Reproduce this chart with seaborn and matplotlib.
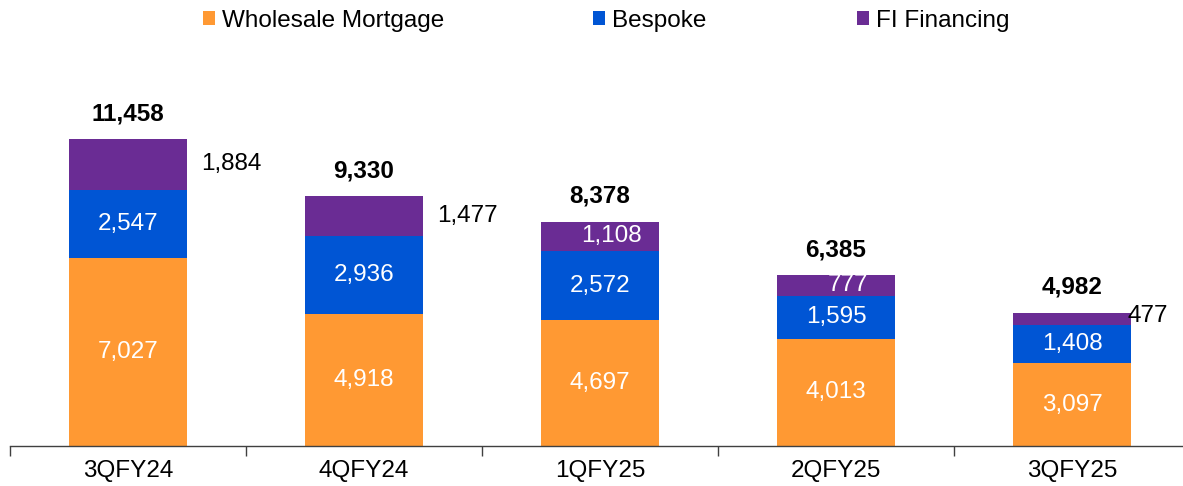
import numpy as np
import pandas as pd
import matplotlib
matplotlib.use('Agg')
import matplotlib.pyplot as plt
from matplotlib.patches import Patch
import seaborn as sns

sns.set_style('white')
plt.rcParams['font.family'] = ['Liberation Sans', 'DejaVu Sans']
plt.rcParams['text.color'] = 'black'
plt.rcParams['xtick.color'] = 'black'

# Data
quarters = ['3QFY24', '4QFY24', '1QFY25', '2QFY25', '3QFY25']
wholesale = [7027, 4918, 4697, 4013, 3097]
bespoke = [2547, 2936, 2572, 1595, 1408]
fi_financing = [1884, 1477, 1108, 777, 477]
totals = [11458, 9330, 8378, 6385, 4982]

series_names = ['Wholesale Mortgage', 'Bespoke', 'FI Financing']
colors = ['#FF9933', '#0055D4', '#6A2C94']

df = pd.DataFrame({'quarter': quarters, 'wholesale': wholesale,
                   'bespoke': bespoke, 'fi': fi_financing})
df['b2'] = df['wholesale'] + df['bespoke']

fig = plt.figure(figsize=(11.83, 4.86), dpi=100)
ax = fig.add_axes([10 / 1183, 40 / 486, 1180 / 1183, 375 / 486])

fs = 17.5
sns.barplot(data=df, x='quarter', y='wholesale', color=colors[0], width=0.5,
            saturation=1, ax=ax, linewidth=0)
sns.barplot(data=df, x='quarter', y='bespoke', color=colors[1], width=0.5,
            saturation=1, ax=ax, bottom=df['wholesale'], linewidth=0)
sns.barplot(data=df, x='quarter', y='fi', color=colors[2], width=0.5,
            saturation=1, ax=ax, bottom=df['b2'], linewidth=0)

# segment labels
for i in range(len(quarters)):
    ax.text(i, wholesale[i] / 2, f'{wholesale[i]:,}', ha='center', va='center',
            color='white', fontsize=fs)
    ax.text(i, wholesale[i] + bespoke[i] / 2, f'{bespoke[i]:,}', ha='center',
            va='center', color='white', fontsize=fs)
    ax.text(i, totals[i] + 950, f'{totals[i]:,}', ha='center', va='center',
            color='black', fontsize=fs, fontweight='bold')

# FI Financing labels: some outside the bar, some inside
fi_mid = [df['b2'][i] + fi_financing[i] / 2 for i in range(len(quarters))]
ax.text(0 + 0.31, fi_mid[0], f'{fi_financing[0]:,}', ha='left', va='center',
        color='black', fontsize=fs)
ax.text(1 + 0.31, fi_mid[1], f'{fi_financing[1]:,}', ha='left', va='center',
        color='black', fontsize=fs)
ax.text(2 + 0.05, fi_mid[2], f'{fi_financing[2]:,}', ha='center', va='center',
        color='white', fontsize=fs)
ax.text(3 + 0.05, fi_mid[3], f'{fi_financing[3]:,}', ha='center', va='center',
        color='white', fontsize=fs)
ax.text(4 + 0.235, fi_mid[4] + 100, f'{fi_financing[4]:,}', ha='left', va='center',
        color='black', fontsize=fs)

ax.set_xlim(-0.5, len(quarters) - 0.5)
ax.set_ylim(0, 14000)
ax.set_xlabel('')
ax.set_ylabel('')
ax.set_yticks([])
ax.set_xticks(np.arange(-0.5, len(quarters), 1.0))
ax.set_xticklabels([])
ax.set_xticks(np.arange(len(quarters)), minor=True)
ax.set_xticklabels(quarters, minor=True, fontsize=fs)
ax.tick_params(axis='x', which='major', length=7, width=1, color='#404040',
               direction='out', bottom=True)
ax.tick_params(axis='x', which='minor', length=0, pad=10)
for s in ['left', 'right', 'top']:
    ax.spines[s].set_visible(False)
ax.spines['bottom'].set_color('#404040')
ax.spines['bottom'].set_linewidth(1)

# legend entries placed individually, as in the original
legend_x = [203, 593, 857]
for name, c, lx in zip(series_names, colors, legend_x):
    leg = fig.legend([Patch(facecolor=c, edgecolor='none')], [name],
                     loc='center left', bbox_to_anchor=(lx / 1183, 1 - 21 / 486),
                     frameon=False, fontsize=fs, handlelength=0.5,
                     handleheight=0.5, handletextpad=0.3, borderpad=0,
                     borderaxespad=0)

fig.savefig('out.png', dpi=100)
